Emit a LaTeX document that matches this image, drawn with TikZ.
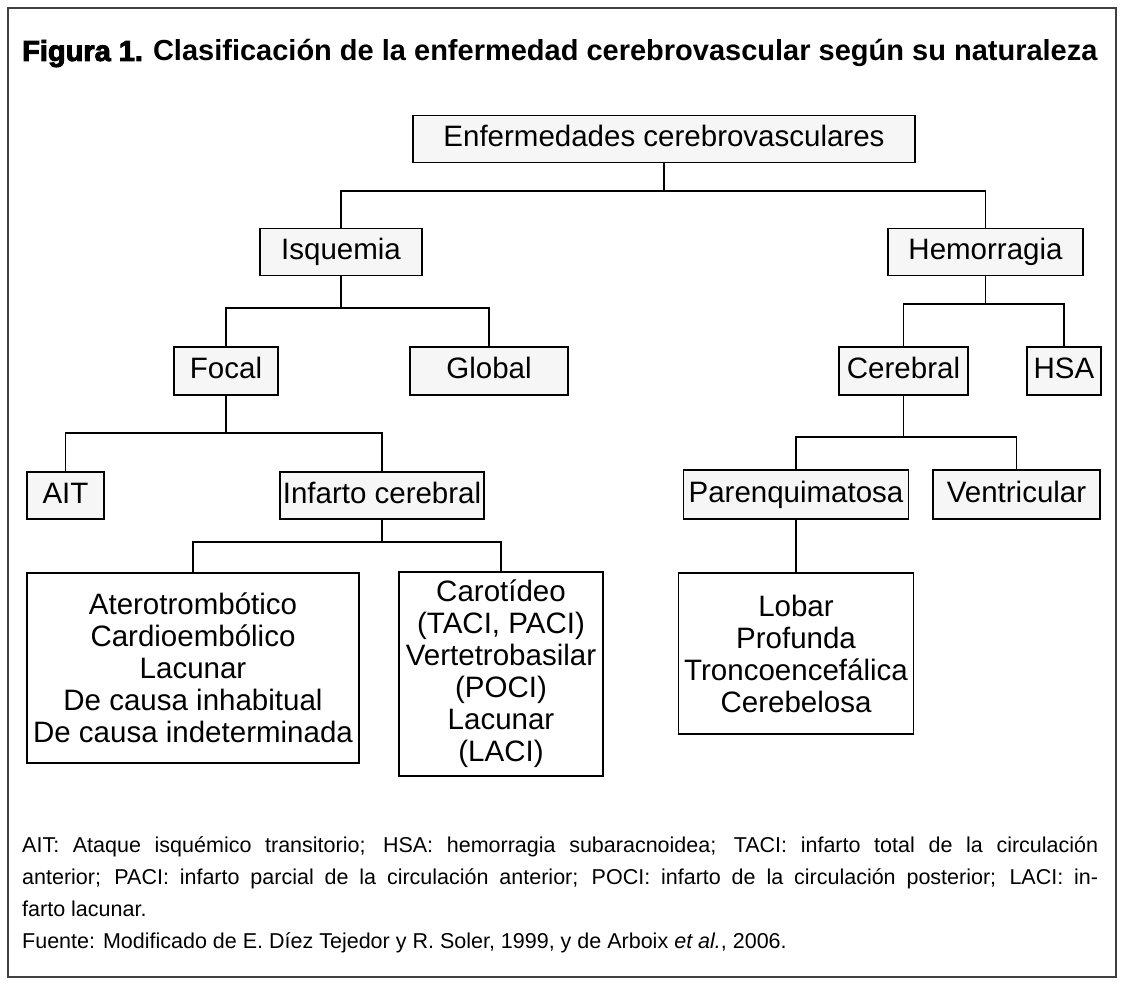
\documentclass[tikz,border=0pt]{standalone}
\usepackage{fontspec}
\setmainfont{Liberation Sans}
\newcommand\heavytext[1]{\special{pdf:literal direct 2 Tr 0.9 w}#1\special{pdf:literal direct 0 Tr}}
\newcommand\boxfont{\fontsize{29.5}{32}\selectfont}
\newcommand\notefont{\fontsize{21.5}{32}\selectfont}
\newcommand\titlefont{\fontsize{29}{34}\selectfont}
\begin{document}
\begin{tikzpicture}[x=1pt,y=-1pt,
  upbox/.style={draw=black, line width=1.7pt, fill=gray!7, inner sep=0pt, text height=21pt, text depth=6pt, font=\boxfont},
  lowbox/.style={draw=black, line width=1.4pt, fill=white, inner sep=0pt, align=center, font=\boxfont},
  link/.style={line width=1.3pt, draw=black},
  note/.style={anchor=base west, inner sep=0pt, font=\notefont}]
\path[fill=white] (0,0) rectangle (1123,987);
\useasboundingbox (0,0) rectangle (1123,987);
\draw[line width=1.5pt, draw=black!75] (8,8) rectangle (1116,977);

% title
\node[anchor=base west, inner sep=0pt, font=\titlefont] (title) at (22,61)
  {{\bfseries\heavytext{Figura 1.}}\hspace{10pt}{\bfseries Clasificación de la enfermedad cerebrovascular según su naturaleza}};

% boxes
\node[upbox, minimum width=502pt, minimum height=47pt] (root) at (664,139) {Enfermedades cerebrovasculares};
\node[upbox, minimum width=162pt, minimum height=47pt] (isq) at (341,252) {Isquemia};
\node[upbox, minimum width=195pt, minimum height=47pt] (hem) at (985.5,252) {Hemorragia};
\node[upbox, minimum width=104pt, minimum height=48pt] (focal) at (226,371) {Focal};
\node[upbox, minimum width=158pt, minimum height=48pt] (global) at (489,371) {Global};
\node[upbox, minimum width=129pt, minimum height=48pt] (cereb) at (903.5,371) {Cerebral};
\node[upbox, minimum width=74pt, minimum height=48pt] (hsa) at (1064,371) {HSA};
\node[upbox, minimum width=77pt, minimum height=47pt] (ait) at (65.5,495.5) {AIT};
\node[upbox, minimum width=204pt, minimum height=47pt] (inf) at (382,495.5) {Infarto cerebral};
\node[upbox, minimum width=225pt, minimum height=49pt] (par) at (796,494.5) {Parenquimatosa};
\node[upbox, minimum width=167pt, minimum height=49pt] (ven) at (1016.5,494.5) {Ventricular};

\node[lowbox, minimum width=332pt, minimum height=190pt] (tipos) at (193,668)
  {Aterotrombótico\\Cardioembólico\\Lacunar\\De causa inhabitual\\De causa indeterminada};
\node[lowbox, minimum width=204pt, minimum height=204pt] (carot) at (501,674)
  {Carotídeo\\(TACI, PACI)\\Vertetrobasilar\\(POCI)\\Lacunar\\(LACI)};
\node[lowbox, minimum width=235pt, minimum height=161pt] (lobar) at (796,653.5)
  {Lobar\\Profunda\\Troncoencefálica\\Cerebelosa};

% connectors
\draw[link] (root.south) -- ++(0,27.5) coordinate (r1) -| (isq.north);
\draw[link] (r1) -| (hem.north);
\draw[link] (isq.south) -- ++(0,31.5) coordinate (i1) -| (focal.north);
\draw[link] (i1) -| (global.north);
\draw[link] (hem.south) -- ++(0,27.5) coordinate (h1) -| (cereb.north);
\draw[link] (h1) -| (hsa.north);
\draw[link] (focal.south) -- ++(0,37) coordinate (f1) -| (ait.north);
\draw[link] (f1) -| (inf.north);
\draw[link] (cereb.south) -- ++(0,41) coordinate (c1) -| (par.north);
\draw[link] (c1) -| (ven.north);
\draw[link] (inf.south) -- ++(0,22) coordinate (n1) -| (tipos.north);
\draw[link] (n1) -| (carot.north);
\draw[link] (par.south) -- (lobar.north);

% notes
\node[note] (note1) at (22,852) {\makebox[1076pt][s]{AIT: Ataque isquémico transitorio; HSA: hemorragia subaracnoidea; TACI: infarto total de la circulación}};
\node[note] (note2) at (22,884) {\makebox[1076pt][s]{anterior; PACI: infarto parcial de la circulación anterior; POCI: infarto de la circulación posterior; LACI: in-}};
\node[note] (note3) at (22,916) {farto lacunar.};
\node[note] (note4) at (22,948) {Fuente: Modificado de E. Díez Tejedor y R. Soler, 1999, y de Arboix \textit{et al.}, 2006.};
\end{tikzpicture}
\end{document}
